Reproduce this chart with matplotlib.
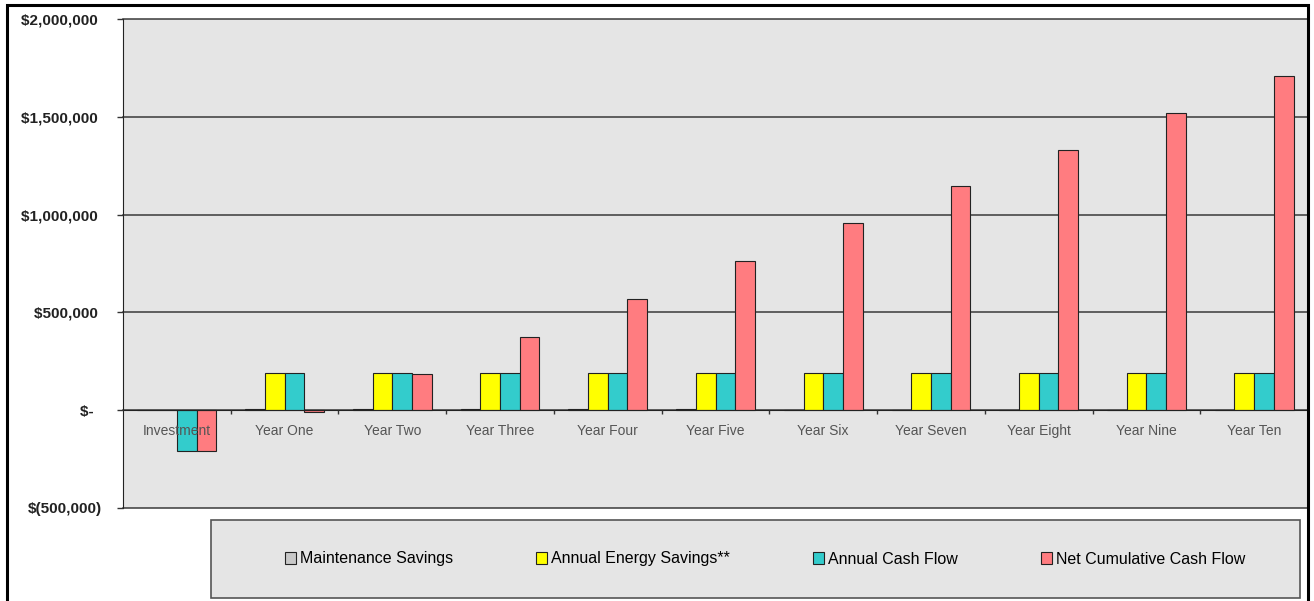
import numpy as np
import matplotlib.pyplot as plt
from matplotlib.patches import Rectangle
from matplotlib.ticker import FixedLocator

plt.rcParams['font.family'] = ['Liberation Sans', 'DejaVu Sans']

categories = ['Investment', 'Year One', 'Year Two', 'Year Three', 'Year Four',
              'Year Five', 'Year Six', 'Year Seven', 'Year Eight', 'Year Nine',
              'Year Ten']
maintenance = [0, 5000, 5000, 5000, 5000, 5000, 0, 0, 0, 0, 0]
energy = [0, 188000, 188000, 188000, 188000, 188000, 188000, 188000, 188000,
          188000, 188000]
cash_flow = [-208000, 191000, 191000, 191000, 191000, 191000, 188000, 188000,
             188000, 188000, 188000]
cumulative = [-208000, -8000, 184000, 375000, 570000, 765000, 955000,
              1145000, 1330000, 1520000, 1710000]

series_names = ['Maintenance Savings', 'Annual Energy Savings**',
                'Annual Cash Flow', 'Net Cumulative Cash Flow']
series = [maintenance, energy, cash_flow, cumulative]
colors = ['#C8C8C8', '#FFFF00', '#33CCCC', '#FF7C80']

y_ticks = [-500000, 0, 500000, 1000000, 1500000, 2000000]
y_labels = ['$(500,000)', '$-  ', '$500,000 ', '$1,000,000 ', '$1,500,000 ',
            '$2,000,000 ']

W, H = 1314, 601
fig = plt.figure(figsize=(W / 100, H / 100), dpi=100)
fig.patch.set_facecolor('white')
ax = fig.add_axes([123 / W, 1 - 508 / H, (1308 - 123) / W, (508 - 19) / H])
ax.set_facecolor('#E5E5E5')
ax.set_axisbelow(False)

x = np.arange(len(categories))
bw = 0.183
handles = []
for i, (vals, c) in enumerate(zip(series, colors)):
    b = ax.bar(x + (i - 1.5) * bw, vals, bw, color=c, edgecolor='#222222',
               linewidth=0.8, zorder=1)
    handles.append(b)

ax.set_xlim(-0.5, len(categories) - 0.5)
ax.set_ylim(-500000, 2000000)

# horizontal gridlines, including the frame edges
ax.set_yticks(y_ticks)
ax.set_yticklabels(y_labels, fontsize=11, fontweight='bold', color='#222222')
for v in y_ticks:
    ax.axhline(v, color='#3A3A3A', lw=1.1, zorder=0.5, clip_on=False)
ax.tick_params(axis='y', direction='out', length=4, width=1, pad=11,
               color='#333333')

# category axis sits on the zero line, labels drawn over the bars
ax.spines['bottom'].set_position(('data', 0))
ax.spines['bottom'].set_color('#222222')
ax.spines['top'].set_visible(False)
ax.spines['right'].set_visible(False)
ax.spines['left'].set_color('#222222')
ax.set_xticks(x)
ax.set_xticklabels(categories, fontsize=10, color='#555555')
ax.tick_params(axis='x', which='major', length=0, pad=10)
ax.xaxis.set_minor_locator(FixedLocator(np.arange(0.5, len(categories) - 0.5, 1)))
ax.tick_params(axis='x', which='minor', direction='out', length=3, width=1,
               color='#333333')

# legend box
fig.patches.append(Rectangle((211 / W, 1 - 598 / H), (1300 - 211) / W, 78 / H,
                             transform=fig.transFigure, facecolor='#E5E5E5',
                             edgecolor='#555555', lw=1.2, zorder=0))
fig.legend(handles, series_names, loc='center', ncol=4, frameon=False,
           bbox_to_anchor=(765 / W, 1 - 559 / H),
           fontsize=11.5, handlelength=0.7, handleheight=0.7,
           handletextpad=0.25, columnspacing=5.2)

# outer chart border
fig.patches.append(Rectangle((7 / W, -0.02), (1308 - 7) / W, 1 - 5 / H + 0.02,
                             transform=fig.transFigure, fill=False,
                             edgecolor='black', lw=2.2, zorder=5))

fig.savefig('out.png', dpi=100)
